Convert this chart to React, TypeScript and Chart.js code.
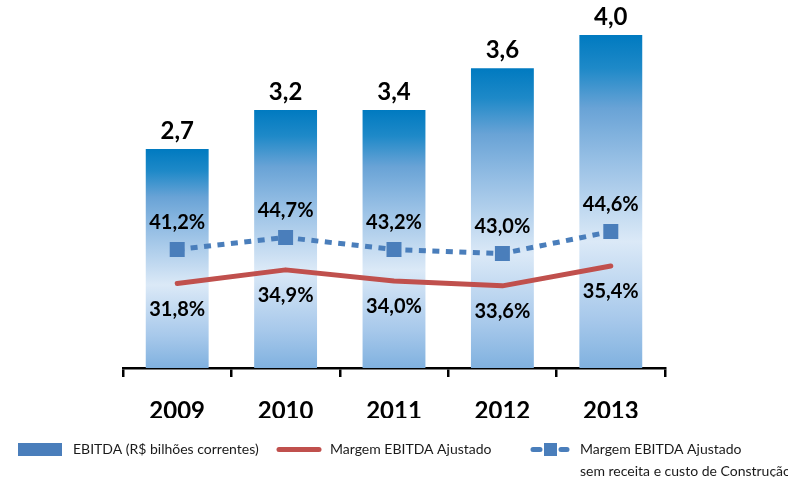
import React, { useEffect, useRef } from 'react';
import { Chart, registerables } from 'chart.js';

Chart.register(...registerables);

// ---- Data ----
const categories = ['2009', '2010', '2011', '2012', '2013'];
// bar heights as drawn (R$ bi)
const ebitdaValues = [2.63, 3.1, 3.1, 3.6, 4.0];
const ebitdaLabels = ['2,7', '3,2', '3,4', '3,6', '4,0'];
// plotted position of "Margem EBITDA Ajustado" (hidden 0-100 axis)
const margemValues = [24.3, 28.2, 25.0, 23.6, 29.3];
const margemLabels = ['31,8%', '34,9%', '34,0%', '33,6%', '35,4%'];
// plotted position of "Margem EBITDA Ajustado sem receita e custo de Construção"
const margemSemValues = [34.05, 37.5, 34.05, 32.9, 39.2];
const margemSemLabels = ['41,2%', '44,7%', '43,2%', '43,0%', '44,6%'];
const legendTexts = [
  ['EBITDA (R$ bilhões correntes)'],
  ['Margem EBITDA Ajustado'],
  ['Margem EBITDA Ajustado', 'sem receita e custo de Construção'],
];

const BLUE = '#4a7ebb';
const RED = '#c0504d';
const FONT = 'Lato';

const labelsPlugin = {
  id: 'valueLabels',
  afterDatasetsDraw(chart: any) {
    const ctx = chart.ctx;
    ctx.save();
    ctx.fillStyle = '#000';
    ctx.textAlign = 'center';
    ctx.textBaseline = 'alphabetic';
    const bars = chart.getDatasetMeta(2).data;
    ctx.font = `bold 24px ${FONT}`;
    bars.forEach((el: any, i: number) => {
      ctx.fillText(ebitdaLabels[i], el.x, el.y - 19 + 8.6);
    });
    ctx.font = `bold 20px ${FONT}`;
    const sem = chart.getDatasetMeta(1).data;
    sem.forEach((el: any, i: number) => {
      ctx.fillText(margemSemLabels[i], el.x, el.y - 28 + 7.2);
    });
    const mar = chart.getDatasetMeta(0).data;
    mar.forEach((el: any, i: number) => {
      ctx.fillText(margemLabels[i], el.x, el.y + 25 + 7.2);
    });
    ctx.restore();
  },
};

const legendPlugin = {
  id: 'customLegend',
  afterDraw(chart: any) {
    const ctx = chart.ctx;
    ctx.save();
    const cy = 449.5;
    ctx.font = `14px ${FONT}`;
    ctx.fillStyle = '#1a1a1a';
    ctx.textAlign = 'left';
    ctx.textBaseline = 'middle';
    // item 1
    ctx.fillStyle = BLUE;
    ctx.fillRect(18, 443, 44, 13);
    ctx.fillStyle = '#1a1a1a';
    ctx.fillText(legendTexts[0][0], 73, cy);
    // item 2
    ctx.strokeStyle = RED;
    ctx.lineWidth = 5;
    ctx.lineCap = 'round';
    ctx.beginPath();
    ctx.moveTo(279, cy);
    ctx.lineTo(319, cy);
    ctx.stroke();
    ctx.fillText(legendTexts[1][0], 330, cy);
    // item 3
    ctx.strokeStyle = BLUE;
    ctx.beginPath();
    ctx.moveTo(533, cy);
    ctx.lineTo(540, cy);
    ctx.moveTo(561, cy);
    ctx.lineTo(567, cy);
    ctx.stroke();
    ctx.fillStyle = BLUE;
    ctx.fillRect(544, 443, 13, 13);
    ctx.fillStyle = '#1a1a1a';
    ctx.fillText(legendTexts[2][0], 580, cy);
    ctx.fillText(legendTexts[2][1], 580, 471);
    ctx.restore();
  },
};

function barGradient(c: any) {
  const chart = c.chart;
  if (!chart.chartArea || c.type !== 'data') return BLUE;
  const ys = chart.scales.y;
  const top = ys.getPixelForValue(c.raw);
  const bottom = ys.getPixelForValue(0);
  const g = chart.ctx.createLinearGradient(0, top, 0, bottom);
  g.addColorStop(0, 'rgb(0,122,192)');
  g.addColorStop(0.1, 'rgb(30,137,200)');
  g.addColorStop(0.22, 'rgb(105,163,214)');
  g.addColorStop(0.38, 'rgb(152,192,229)');
  g.addColorStop(0.62, 'rgb(219,233,247)');
  g.addColorStop(0.85, 'rgb(168,201,235)');
  g.addColorStop(1, 'rgb(128,177,223)');
  return g;
}

export default function App() {
  const ref = useRef<HTMLCanvasElement | null>(null);
  useEffect(() => {
    if (!ref.current) return;
    const chart = new Chart(ref.current, {
      type: 'bar',
      data: {
        labels: categories,
        datasets: [
          {
            type: 'line',
            label: 'Margem EBITDA Ajustado',
            data: margemValues,
            yAxisID: 'y1',
            borderColor: RED,
            borderWidth: 5,
            borderCapStyle: 'round',
            borderJoinStyle: 'round',
            pointRadius: 0,
            tension: 0,
            fill: false,
            order: 1,
          } as any,
          {
            type: 'line',
            label: 'Margem EBITDA Ajustado sem receita e custo de Construção',
            data: margemSemValues,
            yAxisID: 'y1',
            borderColor: BLUE,
            borderWidth: 5,
            borderDash: [7, 6.5],
            borderCapStyle: 'butt',
            pointStyle: 'rect',
            pointRadius: 10.6,
            pointBorderWidth: 0,
            pointBackgroundColor: BLUE,
            tension: 0,
            fill: false,
            order: 0,
          } as any,
          {
            type: 'bar',
            label: 'EBITDA (R$ bilhões correntes)',
            data: ebitdaValues,
            yAxisID: 'y',
            backgroundColor: barGradient,
            borderWidth: 0,
            barPercentage: 0.58,
            categoryPercentage: 1,
            order: 2,
          } as any,
        ],
      },
      options: {
        animation: false,
        responsive: false,
        devicePixelRatio: 1,
        layout: { padding: { left: 123, right: 123, top: 20, bottom: 59 } },
        plugins: { legend: { display: false }, tooltip: { enabled: false } },
        scales: {
          x: {
            offset: true,
            grid: {
              display: true,
              drawOnChartArea: false,
              drawTicks: true,
              tickLength: 9,
              color: '#000',
              lineWidth: 2.5,
              offset: true,
            },
            border: { display: true, color: '#000', width: 2.5 },
            ticks: {
              color: '#000',
              font: { family: FONT, size: 24, weight: 'bold' },
              padding: 20,
              maxRotation: 0,
              autoSkip: false,
            },
            afterFit: (s: any) => {
              s.height = 50;
            },
          },
          y: { display: false, min: 0, max: 4.18 },
          y1: { display: false, min: 0, max: 100 },
        },
      } as any,
      plugins: [labelsPlugin, legendPlugin],
    });
    return () => chart.destroy();
  }, []);
  return (
    <div style={{ position: 'fixed', left: 0, top: 0, width: 788, height: 477, background: '#fff' }}>
      <canvas ref={ref} width={788} height={477} style={{ display: 'block' }} />
    </div>
  );
}
